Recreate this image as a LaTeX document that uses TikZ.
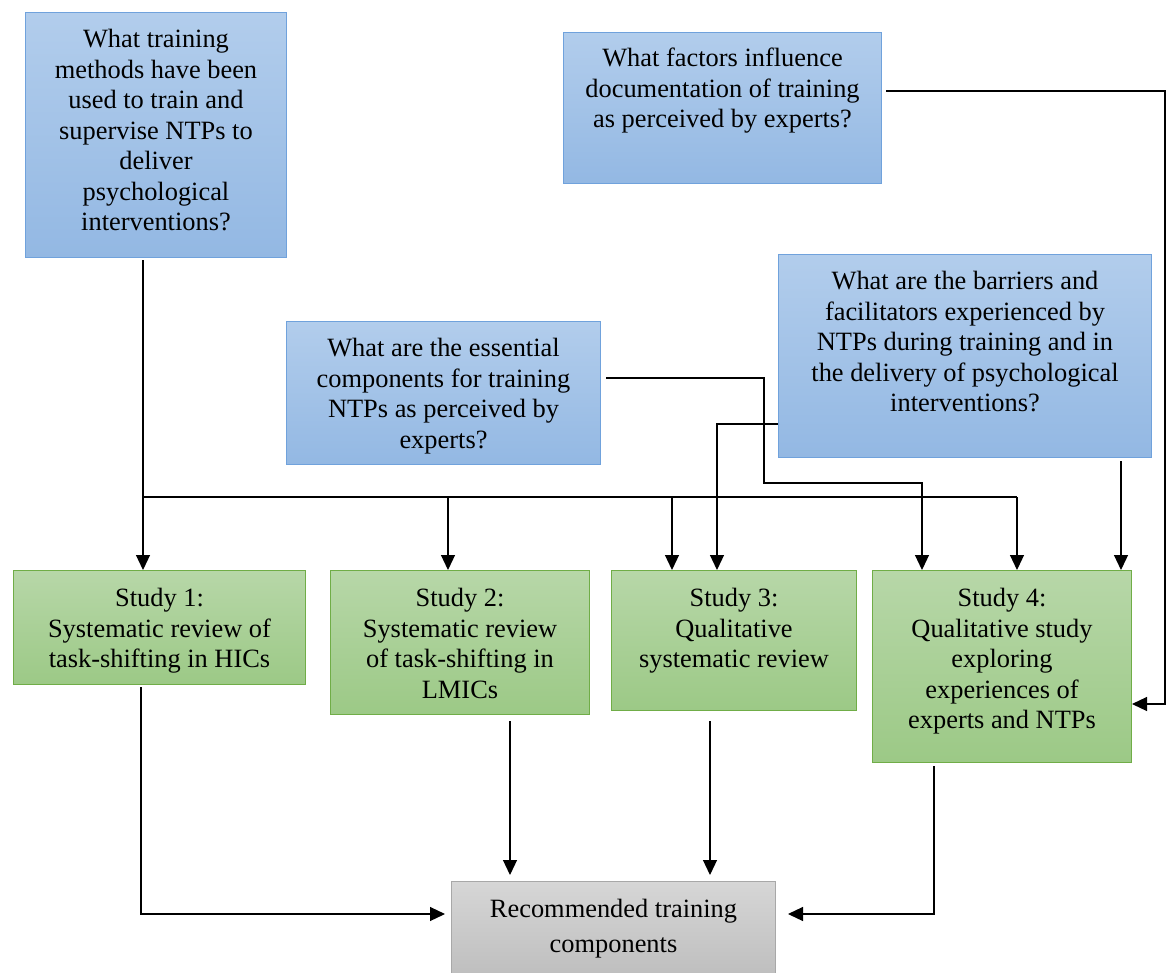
\documentclass[tikz,border=0pt]{standalone}
\usepackage{fontspec}
\setmainfont{Liberation Serif}
\usetikzlibrary{arrows.meta}
\definecolor{bluetop}{RGB}{178,205,236}
\definecolor{bluebot}{RGB}{147,184,227}
\definecolor{bluebd}{RGB}{112,162,220}
\definecolor{greentop}{RGB}{183,215,168}
\definecolor{greenbot}{RGB}{156,201,134}
\definecolor{greenbd}{RGB}{112,173,71}
\definecolor{graytop}{RGB}{214,214,214}
\definecolor{graybot}{RGB}{190,190,190}
\definecolor{graybd}{RGB}{168,168,168}
\newcommand\boxfont{\fontsize{26.4}{30.5}\selectfont}
\tikzset{
  qbox/.style={draw=bluebd, line width=1pt, top color=bluetop, bottom color=bluebot, anchor=north west, inner sep=0pt},
  sbox/.style={draw=greenbd, line width=1pt, top color=greentop, bottom color=greenbot, anchor=north west, inner sep=0pt},
  rbox/.style={draw=graybd, line width=1pt, top color=graytop, bottom color=graybot, anchor=north west, inner sep=0pt},
  txt/.style={anchor=north, align=center, inner sep=0pt, font=\boxfont},
  link/.style={draw=black, line width=1.2pt},
  arr/.style={link, -{Triangle[width=14pt,length=15pt]}}
}
\begin{document}
\begin{tikzpicture}[x=1pt,y=-1pt]
\useasboundingbox (0,0) rectangle (1170,972);

% research questions
\node[qbox, minimum width=261, minimum height=245] (q1) at (25,12) {};
\node[txt] (q1t) at ([yshift=-17pt]q1.north) {What training\\methods have been\\used to train and\\supervise NTPs to\\deliver\\psychological\\interventions?};

\node[qbox, minimum width=318, minimum height=151] (q2) at (563,32) {};
\node[txt] (q2t) at ([yshift=-16pt]q2.north) {What factors influence\\documentation of training\\as perceived by experts?};

\node[qbox, minimum width=373, minimum height=203] (q3) at (778,254) {};
\node[txt] (q3t) at ([yshift=-17pt]q3.north) {What are the barriers and\\facilitators experienced by\\NTPs during training and in\\the delivery of psychological\\interventions?};

\node[qbox, minimum width=314, minimum height=143] (q4) at (286,321) {};
\node[txt] (q4t) at ([yshift=-17pt]q4.north) {What are the essential\\components for training\\NTPs as perceived by\\experts?};

% studies
\node[sbox, minimum width=292, minimum height=114] (s1) at (13,570) {};
\node[txt] (s1t) at ([yshift=-18pt]s1.north) {Study 1:\\Systematic review of\\task-shifting in HICs};

\node[sbox, minimum width=259, minimum height=144] (s2) at (330,570) {};
\node[txt] (s2t) at ([yshift=-18pt]s2.north) {Study 2:\\Systematic review\\of task-shifting in\\LMICs};

\node[sbox, minimum width=245, minimum height=140] (s3) at (611,570) {};
\node[txt] (s3t) at ([yshift=-18pt]s3.north) {Study 3:\\Qualitative\\systematic review};

\node[sbox, minimum width=259, minimum height=192] (s4) at (872,570) {};
\node[txt] (s4t) at ([yshift=-18pt]s4.north) {Study 4:\\Qualitative study\\exploring\\experiences of\\experts and NTPs};

% outcome
\node[rbox, minimum width=324, minimum height=96] (rec) at (451,881) {};
\node[txt, font=\fontsize{26.4}{35}\selectfont] (rect) at ([yshift=-18pt]rec.north) {Recommended training\\components};

% routing columns and rows
\coordinate (c143) at (143,0);
\coordinate (c448) at (448,0);
\coordinate (c672) at (672,0);
\coordinate (c1017) at (1017,0);
\coordinate (c717) at (717,0);
\coordinate (c764) at (764,0);
\coordinate (c922) at (922,0);
\coordinate (c1121) at (1121,0);
\coordinate (c1165) at (1165,0);
\coordinate (c141) at (141,0);
\coordinate (c510) at (510,0);
\coordinate (c710) at (710,0);
\coordinate (c934) at (934,0);
\coordinate (r91) at (0,91);
\coordinate (r378) at (0,378);
\coordinate (r424) at (0,424);
\coordinate (r483) at (0,483);
\coordinate (r497) at (0,497);
\coordinate (r704) at (0,704);
\coordinate (r914) at (0,914);

% question 1 to studies 1-4
\draw[arr, shorten <=2pt] (c143 |- q1.south) -- (c143 |- s1.north);
\draw[link] (c143 |- r497) -- (c1017 |- r497);
\draw[arr] (c448 |- r497) -- (c448 |- s2.north);
\draw[arr] (c672 |- r497) -- (c672 |- s3.north);
\draw[arr] (c1017 |- r497) -- (c1017 |- s4.north);

% question 4 to study 4
\draw[arr, shorten <=5pt] (q4.east |- r378) -- (c764 |- r378) -- (c764 |- r483) -- (c922 |- r483) -- (c922 |- s4.north);

% question 3 to studies 3 and 4
\draw[arr] (q3.west |- r424) -- (c717 |- r424) -- (c717 |- s3.north);
\draw[arr, shorten <=3pt] (c1121 |- q3.south) -- (c1121 |- s4.north);

% question 2 to study 4
\draw[arr, shorten <=4pt] (q2.east |- r91) -- (c1165 |- r91) -- (c1165 |- r704) -- (s4.east |- r704);

% studies to recommendations
\draw[arr, shorten <=2pt, shorten >=6pt] (c141 |- s1.south) -- (c141 |- r914) -- (rec.west |- r914);
\draw[arr, shorten <=6pt, shorten >=6pt] (c510 |- s2.south) -- (c510 |- rec.north);
\draw[arr, shorten <=10pt, shorten >=6pt] (c710 |- s3.south) -- (c710 |- rec.north);
\draw[arr, shorten <=3pt, shorten >=12pt] (c934 |- s4.south) -- (c934 |- r914) -- (rec.east |- r914);
\end{tikzpicture}
\end{document}
